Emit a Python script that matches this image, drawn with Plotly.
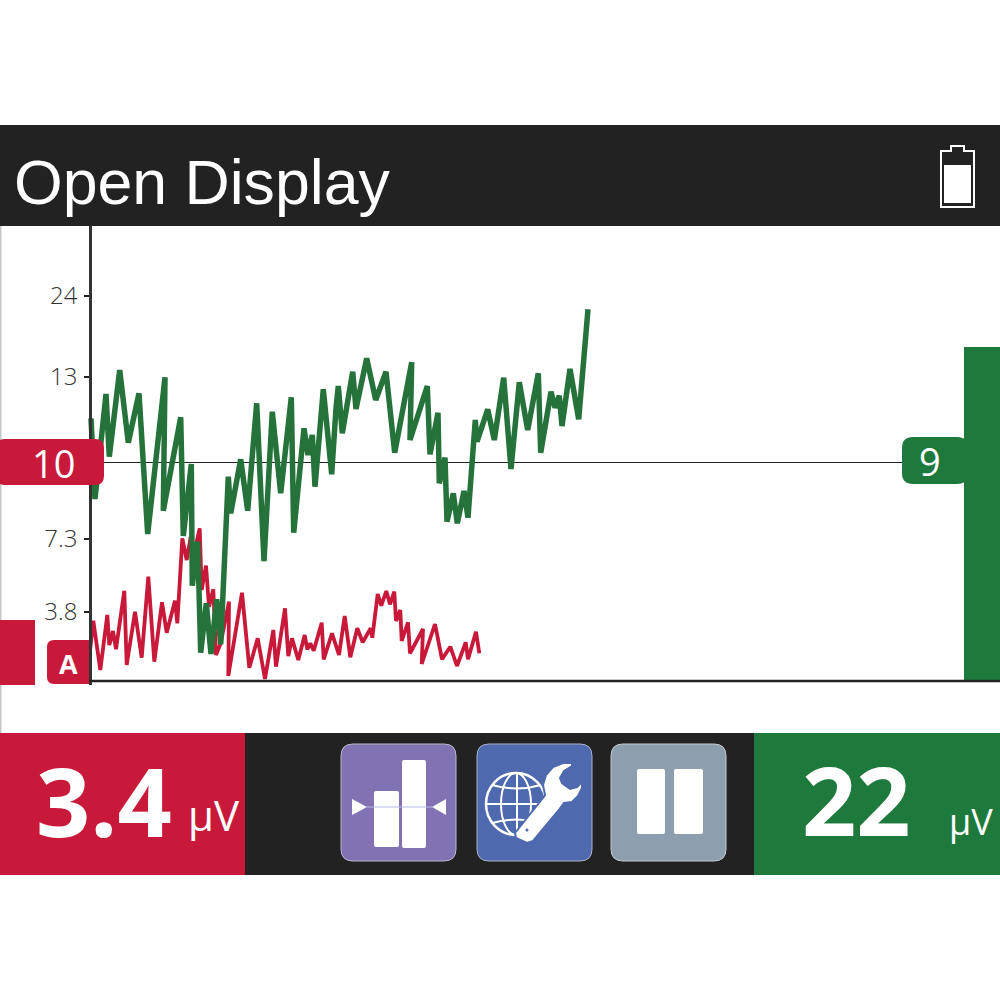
import plotly.graph_objects as go

# Data (axis units: x = sweep position, y = display scale height)
green_x = [91,95,106,109.3,119.7,128.3,139,147.7,165,163.3,180.7,183.3,191.3,192.3,197.7,200.7,206.3,211,216.7,220.7,228.3,230.7,240.7,247.7,256.7,264,272.3,280.7,291.3,293.7,304,308,312.3,315,323.3,331.7,336,338.3,342.3,352.7,356,366.7,375.7,386,394.7,411.7,410,427.3,430,438,439.3,445,447,453.3,457.3,464,468,475.3,477,487.7,494.3,503.7,511,519.3,527.7,538.3,540.7,551,555,559.3,562,570,578.7,588]
green_y = [262.7,182,287,224.3,311,238.3,287.7,147,303.7,170.3,263.7,145,217,95.3,139.3,28.3,77.7,27,81.7,36.7,204.3,167.7,221.7,170.3,277.7,120,269.3,187.7,283.7,148.3,252.7,226,246,194.3,291.7,206.7,272.7,295,247.7,309.3,272,322.7,281,309.3,228.3,318.7,241,295,226.7,268.3,197.7,223.3,159.3,187.7,157.7,190,163.3,261,239.3,271.7,241,303.3,212,298.7,251,307.7,228.3,289.3,273.3,285.3,255,312,261.7,371.7]
red_x = [90,93.3,100.3,107.3,109.3,113,116,124.3,126.7,135,141.7,148.3,154.3,162,166.7,175,177.3,182.3,186.7,190.7,194,199.7,201.7,206,209,213.3,216,220.7,229,228.3,242,249.3,257.7,265,273.3,276,285,288.3,292,298.3,304.7,307.3,310.3,313.7,321.7,323.7,332,339,344.7,350.3,357.3,362.7,370.7,372.3,377.7,381.3,386.3,390,394.3,396,400.3,401.7,408,410,423,421.7,435,442,450.3,457,465.7,468,476,479.3]
red_y = [30,60.3,11,66,36,50,31.7,90.3,16,69.3,23.3,104.3,19.3,78.7,48.3,80.3,57.7,142.7,121,144.3,127.7,152.7,91,115.3,74.3,91.7,26,37.7,79.3,5,88.3,13.3,42.7,2,51,14.3,72.7,25,42.7,21,46,31.7,37.7,30.3,58.3,21.7,47.7,26,65,23.7,52.7,38.7,52.7,43.3,87,75.3,90,76.7,89.3,60,71,40,58.7,27.7,52,17,57,21.7,34.3,15,38.7,21.7,49.3,27.7]
tick_vals = [69, 142, 304, 385]
tick_text = ["3.8", "7.3", "13", "24"]
threshold = 218.5
level_red = 61
level_green = 334
title = "Open Display"
red_reading, red_unit = "3.4", "µV"
green_reading, green_unit = "22", "µV"
red_threshold, green_threshold = "10", "9"

DARK = "#222222"; RED = "#c8193a"; GREEN = "#1e7a3c"; LINE_G = "#25733a"; WHITE = "#ffffff"
BLUE = "#4f69ae"
FONT = "Open Sans"

def X(p): return p / 1000
def Y(p): return 1 - p / 1000

shapes = []
def rect(x0, y0, x1, y1, color, layer="below"):
    shapes.append(dict(type="rect", xref="paper", yref="paper", x0=X(x0), x1=X(x1), y0=Y(y0), y1=Y(y1),
                       fillcolor=color, line_width=0, layer=layer))
def seg(x0, y0, x1, y1, color, width, layer="above"):
    shapes.append(dict(type="line", xref="paper", yref="paper", x0=X(x0), x1=X(x1), y0=Y(y0), y1=Y(y1),
                       line=dict(color=color, width=width), layer=layer))
def pth(d, fill=None, line=None, width=0, layer="above"):
    s = dict(type="path", xref="paper", yref="paper", path=d, layer=layer)
    if fill: s["fillcolor"] = fill
    s["line"] = dict(color=line or "rgba(0,0,0,0)", width=width)
    shapes.append(s)
def P(*pts, close=True):
    d = ""
    for i, (a, b) in enumerate(pts):
        d += ("M" if i == 0 else "L") + f"{X(a):.5f},{Y(b):.5f}"
    return d + ("Z" if close else "")
def Q(x0, y0, cx, cy, x1, y1):
    return f"M{X(x0):.5f},{Y(y0):.5f}Q{X(cx):.5f},{Y(cy):.5f} {X(x1):.5f},{Y(y1):.5f}"
def rrect(x0, y0, x1, y1, r, tl=True, tr=True, br=True, bl=True):
    d = ""
    rs = [r if c else 0 for c in (tl, tr, br, bl)]
    d += f"M{X(x0+rs[0]):.5f},{Y(y0):.5f}L{X(x1-rs[1]):.5f},{Y(y0):.5f}"
    d += f"Q{X(x1):.5f},{Y(y0):.5f} {X(x1):.5f},{Y(y0+rs[1]):.5f}"
    d += f"L{X(x1):.5f},{Y(y1-rs[2]):.5f}Q{X(x1):.5f},{Y(y1):.5f} {X(x1-rs[2]):.5f},{Y(y1):.5f}"
    d += f"L{X(x0+rs[3]):.5f},{Y(y1):.5f}Q{X(x0):.5f},{Y(y1):.5f} {X(x0):.5f},{Y(y1-rs[3]):.5f}"
    d += f"L{X(x0):.5f},{Y(y0+rs[0]):.5f}Q{X(x0):.5f},{Y(y0):.5f} {X(x0+rs[0]):.5f},{Y(y0):.5f}Z"
    return d
def ell(cx, cy, rx, ry, fill=None, line=None, width=0):
    shapes.append(dict(type="circle", xref="paper", yref="paper", x0=X(cx-rx), x1=X(cx+rx), y0=Y(cy+ry), y1=Y(cy-ry),
                       fillcolor=fill or "rgba(0,0,0,0)", line=dict(color=line or "rgba(0,0,0,0)", width=width), layer="above"))

# Panels
rect(0, 125, 1000, 226, DARK)
rect(0, 733, 1000, 875, DARK)
rect(0, 733, 245, 875, RED)
rect(754, 733, 1000, 875, GREEN)
seg(0.7, 226, 0.7, 733, "#c4c4c4", 1.5, "below")

# Battery
pth(P((941,151),(951,151),(951,146),(964,146),(964,151),(974,151),(974,207),(941,207)), fill=DARK, line=WHITE, width=2)
rect(944, 165, 971, 203, WHITE, "above")

# Threshold pills and tag
pth(rrect(-4, 439, 104, 485, 9), fill=RED)
pth(rrect(902, 437, 968, 484, 11), fill=GREEN)
pth(rrect(47, 640, 90, 684, 7, tr=False, br=False), fill=RED, layer="below")

# Purple button
pth(rrect(341, 744, 456, 861, 12), fill="#8272b3", line="#b9b7cc", width=1)
pth(rrect(374, 791, 399, 847, 2), fill=WHITE)
pth(rrect(402, 760, 426, 848, 2), fill=WHITE)
pth(P((352,799),(352,815),(367,807)), fill=WHITE)
pth(P((446,799),(446,815),(432,807)), fill=WHITE)
seg(365, 807, 434, 807, "#b4b9e6", 1)

# Blue button: globe and wrench
pth(rrect(477, 744, 592, 861, 12), fill=BLUE, line="#a9b2cc", width=1)
ell(516, 804, 30, 31, line=WHITE, width=2.5)
ell(516, 804, 15, 31, line=WHITE, width=2)
seg(517, 773, 517, 835, WHITE, 2)
seg(486, 804, 546, 804, WHITE, 2)
pth(Q(492, 785, 517, 792, 541, 785), line=WHITE, width=2)
pth(Q(492, 823, 517, 816, 541, 823), line=WHITE, width=2)
pth(P((572,763),(563,763),(553,767),(546,775),(543,785),(545,795),(543,798),(515,833),(516,838),(527,843),(533,841),(558,811),(564,803),(572,802),(578,796),(582,788),(582,782),(577,787),(570,789),(562,783),(560,778),(564,771),(572,766)),
    fill=WHITE, line=BLUE, width=2)
ell(527, 830, 1.5, 1.5, fill=BLUE)

# Grey button
pth(rrect(611, 744, 726, 861, 12), fill="#8d9fae", line="#c2c9cf", width=1)
pth(rrect(637, 769, 665, 834, 2), fill=WHITE)
pth(rrect(674, 769, 703, 834, 2), fill=WHITE)

# Threshold line and baseline
shapes.append(dict(type="line", xref="x", yref="y", x0=104, x1=902, y0=threshold, y1=threshold, line=dict(color="#222222", width=1), layer="below"))
shapes.append(dict(type="line", xref="x", yref="y", x0=89, x1=1000, y0=0, y1=0, line=dict(color="#222222", width=2.5), layer="above"))

fig = go.Figure()
fig.add_trace(go.Bar(x=[982], y=[level_green], width=[36], marker=dict(color=GREEN, line_width=0)))
fig.add_trace(go.Bar(x=[17.5], y=[level_red + 4], base=[-4], width=[35], marker=dict(color=RED, line_width=0)))
fig.add_trace(go.Scatter(x=red_x, y=red_y, mode="lines", line=dict(color=RED, width=3.8), cliponaxis=False))
fig.add_trace(go.Scatter(x=green_x, y=green_y, mode="lines", line=dict(color=LINE_G, width=5.5)))

def note(x, y, t, size, color=WHITE, family=FONT, anchor="center", bold=False):
    return dict(xref="paper", yref="paper", x=X(x), y=Y(y), text=f"<b>{t}</b>" if bold else t, showarrow=False,
                xanchor=anchor, yanchor="middle", font=dict(size=size, color=color, family=family))

annotations = [
    note(12, 182, title, 62.6, family="Liberation Sans", anchor="left"),
    note(53, 463, red_threshold, 38),
    note(930, 461, green_threshold, 38),
    note(68, 663, "A", 27, bold=True),
    note(103.5, 800, red_reading, 95, bold=True),
    note(214, 814, red_unit, 42),
    note(856.5, 799, green_reading, 95, bold=True),
    note(971, 821, green_unit, 36),
]

fig.update_layout(
    width=1000, height=1000, margin=dict(l=0, r=0, t=0, b=0), autosize=False,
    paper_bgcolor=WHITE, plot_bgcolor="rgba(0,0,0,0)", showlegend=False, barmode="overlay",
    shapes=shapes, annotations=annotations,
    xaxis=dict(domain=[0, 1], range=[0, 1000], visible=False, fixedrange=True),
    yaxis=dict(domain=[Y(685), Y(226)], range=[-4, 455], anchor="free", position=0.09, showgrid=False, zeroline=False,
               tickvals=tick_vals, ticktext=tick_text, ticks="outside", ticklen=5, tickwidth=2, tickcolor="#222",
               ticklabelstandoff=2, tickfont=dict(family=FONT, size=24, color="#333", weight=300),
               showline=True, linecolor="#333", linewidth=2.5),
)
fig.write_html("out.html", post_script="document.body.style.margin='0';document.documentElement.style.overflow='hidden';",
               config={"displayModeBar": False})
